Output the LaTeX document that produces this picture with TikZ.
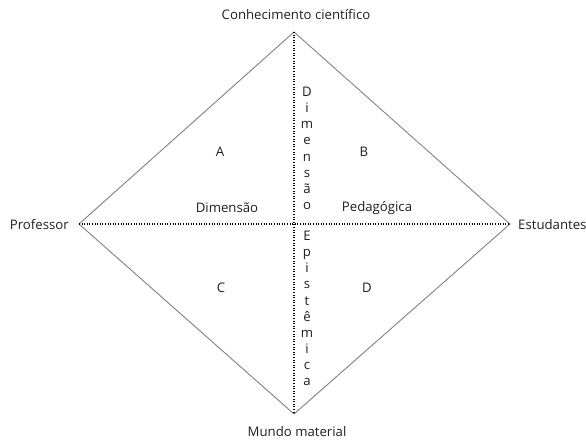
\documentclass[tikz,border=0pt]{standalone}
\usepackage{fontspec}
\setmainfont{Open Sans}
\begin{document}
\begin{tikzpicture}[x=1pt,y=-1pt,
  edge/.style={draw=black!50,line width=0.9pt},
  dotline/.style={draw=black,line width=1.4pt,dash pattern=on 0.9pt off 1.7pt},
  lbl/.style={inner sep=0pt,font=\fontsize{13.2}{15}\selectfont,text=black!88},
  vert/.style={inner sep=0pt,align=center,font=\fontsize{13.2}{16.1}\selectfont,text=black!88}]
\useasboundingbox (0,0) rectangle (586,441);
\coordinate (T) at (294,32);
\coordinate (L) at (79,224);
\coordinate (R) at (510,224);
\coordinate (B) at (294,414);
\coordinate (C) at (294,224);
\draw[edge] (T) -- (R) -- (B) -- (L) -- cycle;
\draw[dotline] (T) -- (B);
\draw[dotline] (L) -- (R);
\node[lbl] (top) at (296,15) {Conhecimento científico};
\node[lbl,anchor=east] (prof) at (69,225) {Professor};
\node[lbl,anchor=west] (est) at (518,225) {Estudantes};
\node[lbl] (mundo) at (297,432) {Mundo material};
\node[lbl] (a) at (220,152) {A};
\node[lbl] (b) at (364,152) {B};
\node[lbl] (c) at (221,288) {C};
\node[lbl] (d) at (367,288) {D};
\node[lbl] (dim) at (227,208) {Dimensão};
\node[lbl] (ped) at (377,208) {Pedagógica};
\node[vert,anchor=north] (v1) at (307,87) {D\\i\\m\\e\\n\\s\\ã\\o};
\node[vert,anchor=north] (v2) at (307,231) {E\\p\\i\\s\\t\\ê\\m\\i\\c\\a};
\end{tikzpicture}
\end{document}
